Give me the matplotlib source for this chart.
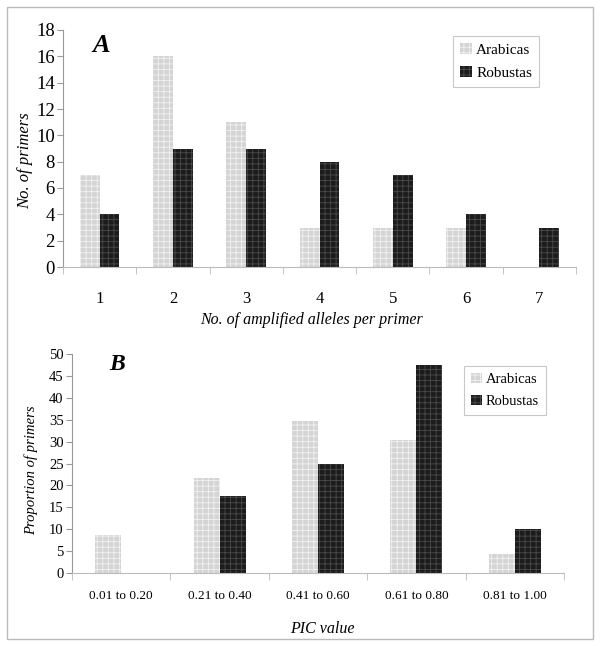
import matplotlib
matplotlib.use('Agg')
import matplotlib.pyplot as plt
import numpy as np
from matplotlib.patches import Rectangle

# --- data ---
alleles = ['1', '2', '3', '4', '5', '6', '7']
arabicas_a = [7, 16, 11, 3, 3, 3, 0]
robustas_a = [4, 9, 9, 8, 7, 4, 3]

pic_bins = ['0.01 to 0.20', '0.21 to 0.40', '0.41 to 0.60', '0.61 to 0.80', '0.81 to 1.00']
arabicas_b = [8.7, 21.7, 34.8, 30.4, 4.3]
robustas_b = [0, 17.5, 25.0, 47.5, 10.0]

plt.rcParams['font.family'] = ['Liberation Serif', 'DejaVu Serif']
plt.rcParams['hatch.linewidth'] = 0.6

fig = plt.figure(figsize=(6, 6.46), dpi=100)
fig.patches.append(Rectangle((7 / 600, 7 / 646), 586 / 600, 632 / 646, transform=fig.transFigure,
                             fill=False, edgecolor='#bbbbbb', lw=1))

light = dict(facecolor='#d4d4d4', edgecolor='#f2f2f2', hatch='+++', linewidth=0)
dark = dict(facecolor='#1c1c1c', edgecolor='#4a4a4a', hatch='+++', linewidth=0)


def style_axes(ax, n, xsize, ysize, xpad):
    for s in ['top', 'right']:
        ax.spines[s].set_visible(False)
    ax.spines['left'].set_color('#999999')
    ax.spines['bottom'].set_color('#bbbbbb')
    ax.set_xlim(0, n)
    ax.set_xticks(np.arange(n) + 0.5)
    ax.set_xticks(np.arange(n + 1), minor=True)
    ax.tick_params(axis='x', which='major', length=0, labelsize=xsize, pad=xpad)
    ax.tick_params(axis='x', which='minor', length=5, color='#bbbbbb', direction='out')
    ax.tick_params(axis='y', length=4, color='#999999', labelsize=ysize, pad=2)


def add_legend(ax, anchor, size):
    leg = ax.legend(loc='upper right', bbox_to_anchor=anchor, borderaxespad=0, fontsize=size,
                    frameon=True, fancybox=False, edgecolor='#bbbbbb', handlelength=0.75,
                    handleheight=0.75, handletextpad=0.3, borderpad=0.45, labelspacing=0.6)
    leg.get_frame().set_linewidth(0.8)


# --- Panel A ---
axA = fig.add_axes([63 / 600, 1 - 267 / 646, (576 - 63) / 600, (267 - 30) / 646])
x = np.arange(len(alleles)) + 0.5
w = 0.27
axA.bar(x - w / 2, arabicas_a, w, label='Arabicas', **light)
axA.bar(x + w / 2, robustas_a, w, label='Robustas', **dark)
style_axes(axA, len(alleles), 12, 13.5, 17)
axA.set_xticklabels(alleles)
axA.set_ylim(0, 18)
axA.set_yticks(range(0, 19, 2))
axA.set_ylabel('No. of primers', fontstyle='italic', fontsize=12)
axA.yaxis.set_label_coords(-0.058, 0.45)
axA.set_xlabel('No. of amplified alleles per primer', fontstyle='italic', fontsize=11.5)
axA.xaxis.set_label_coords(0.485, -0.19)
axA.text(0.058, 0.935, 'A', transform=axA.transAxes, fontsize=19, fontweight='bold',
         fontstyle='italic', va='center')
add_legend(axA, (0.928, 0.975), 11)

# --- Panel B ---
axB = fig.add_axes([72 / 600, 1 - 573 / 646, (564 - 72) / 600, (573 - 354) / 646])
xb = np.arange(len(pic_bins)) + 0.5
wb = 0.265
axB.bar(xb - wb / 2, arabicas_b, wb, label='Arabicas', **light)
axB.bar(xb + wb / 2, robustas_b, wb, label='Robustas', **dark)
style_axes(axB, len(pic_bins), 9.5, 10.5, 12)
axB.set_xticklabels(pic_bins)
axB.set_ylim(0, 50)
axB.set_yticks(range(0, 51, 5))
axB.set_ylabel('Proportion of primers', fontstyle='italic', fontsize=10.5)
axB.yaxis.set_label_coords(-0.069, 0.47)
axB.set_xlabel('PIC value', fontstyle='italic', fontsize=11.5)
axB.xaxis.set_label_coords(0.508, -0.22)
axB.text(0.075, 0.95, 'B', transform=axB.transAxes, fontsize=17, fontweight='bold',
         fontstyle='italic', va='center')
add_legend(axB, (0.963, 0.945), 10.5)

fig.savefig('out.png', dpi=100)
